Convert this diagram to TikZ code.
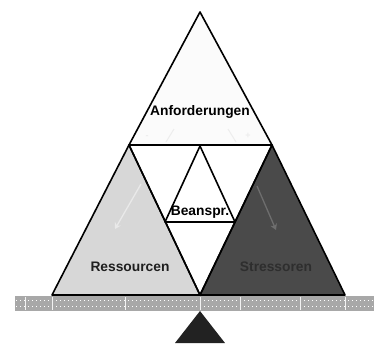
\documentclass[tikz,border=0pt]{standalone}
\usepackage{fontspec}
\setmainfont{Liberation Sans}
\usetikzlibrary{arrows.meta}
\definecolor{topfill}{HTML}{FBFBFB}
\definecolor{resfill}{HTML}{D7D7D7}
\definecolor{strfill}{HTML}{4A4A4A}
\definecolor{barfill}{HTML}{A8A8A8}
\definecolor{fulcrum}{HTML}{222222}
\tikzset{
  tri/.style={draw=black, line width=1.6pt, line join=round},
  lbl/.style={font=\bfseries\fontsize{13.8}{16}\selectfont, inner sep=0pt},
  faint/.style={line width=1.3pt, -{Stealth[length=6pt,width=7pt]}},
}
\begin{document}
\begin{tikzpicture}[x=1pt,y=-1pt]
\useasboundingbox (0,0) rectangle (374,343);
% corner coordinates
\coordinate (T) at (200,12);
\coordinate (ML) at (129,145);
\coordinate (MR) at (272,145);
\coordinate (BL) at (52,295);
\coordinate (BC) at (200,295);
\coordinate (BR) at (345,295);
\coordinate (MC) at (200,146);
\coordinate (SL) at (165,222);
\coordinate (SR) at (235,222);
% bar
\fill[barfill] (15,296) rectangle (374,311);
\foreach \yy in {300.5,306.5}
  \draw[white, line width=0.7pt, dash pattern=on 1pt off 3pt] (16,\yy) -- (374,\yy);
\foreach \xx in {25,52,125,200,240,300,345}
  \draw[white!85!barfill, line width=0.5pt] (\xx,297) -- (\xx,310);
% fulcrum
\fill[fulcrum] (200,311) -- (175,343) -- (225,343) -- cycle;
% middle inverted triangle
\fill[white] (ML) -- (MR) -- (BC) -- cycle;
% top triangle
\filldraw[tri, fill=topfill] (T) -- (ML) -- (MR) -- cycle;
% faint signs in top triangle
\node[text=black!7, font=\bfseries\small] (minus) at (147,137) {-};
\node[text=black!7, font=\bfseries\small] (plus) at (248,136) {+};
\draw[black!7, line width=1pt] (174,129) -- (166,142);
\draw[black!7, line width=1pt] (228,129) -- (236,142);
% left and right triangles
\filldraw[tri, fill=resfill] (ML) -- (BL) -- (BC) -- cycle;
\filldraw[tri, fill=strfill] (MR) -- (BC) -- (BR) -- cycle;
% faint arrows
\coordinate (la1) at (141,184);
\coordinate (la2) at (115,229);
\coordinate (ra1) at (257,186);
\coordinate (ra2) at (276,230);
\draw[faint, color=white!45!resfill] (la1) -- (la2);
\draw[faint, color=white!20!strfill] (ra1) -- (ra2);
% inner triangles
\draw[tri] (ML) -- (MR) -- (BC) -- cycle;
\filldraw[tri, fill=white] (MC) -- (SL) -- (SR) -- cycle;
% labels
\node[lbl] (anf) at (200,112) {Anforderungen};
\node[lbl] (bea) at (200,212) {Beanspr.};
\node[lbl, text=black!88] (res) at (130,267) {Ressourcen};
\node[lbl, text=black!82] (str) at (276,267) {Stressoren};
\end{tikzpicture}
\end{document}
